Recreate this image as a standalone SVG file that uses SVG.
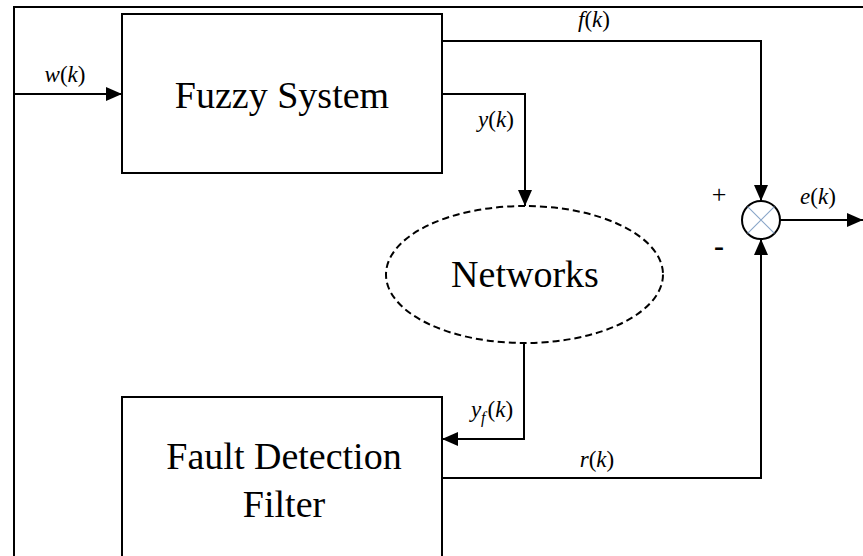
<svg xmlns="http://www.w3.org/2000/svg" width="863" height="556" viewBox="0 0 863 556">
<defs>
<style>
.ln{fill:none;stroke:#000;stroke-width:2}
.box{fill:#fff;stroke:#000;stroke-width:2}
.big{font-size:38px}
.lab{font-size:23px}
.it{font-style:italic}
</style>
<marker id="ah" viewBox="0 0 16 14" refX="16" refY="7" markerWidth="16" markerHeight="14" markerUnits="userSpaceOnUse" orient="auto">
<path d="M0,0 L16,7 L0,14 Z" fill="#000"/>
</marker>
</defs>
<rect width="863" height="556" fill="#fff"/>
<path class="ln" d="M14,560 L14,7 L870,7"/>
<g id="connectors">
<path class="ln" d="M14,94 L122,94" marker-end="url(#ah)"/>
<path class="ln" d="M442,41 L761,41 L761,201" marker-end="url(#ah)"/>
<path class="ln" d="M442,94 L525,94 L525,206" marker-end="url(#ah)"/>
<path class="ln" d="M524,343 L524,439 L442,439" stroke-width="3" marker-end="url(#ah)"/>
<path class="ln" d="M442,478 L761,478 L761,239" marker-end="url(#ah)"/>
<path class="ln" d="M780,220 L863,220" marker-end="url(#ah)"/>
</g>
<g font-family="Liberation Serif, serif" text-anchor="middle" fill="#000">
<g id="fuzzy">
<rect class="box" x="122" y="14" width="320" height="159"/>
<text class="big" x="282" y="108">Fuzzy System</text>
</g>
<g id="networks">
<ellipse cx="524.5" cy="274.5" rx="138.5" ry="68.5" fill="#fff" stroke="#000" stroke-width="2" stroke-dasharray="7,4"/>
<text class="big" x="525" y="287">Networks</text>
</g>
<g id="filter">
<rect class="box" x="122" y="397" width="320" height="170"/>
<text class="big" x="284" y="469">Fault Detection</text>
<text class="big" x="284" y="517">Filter</text>
</g>
<g id="sum">
<circle cx="761" cy="220" r="19" fill="#fff" stroke="#000" stroke-width="2"/>
<path d="M747.6,206.6 L774.4,233.4 M774.4,206.6 L747.6,233.4" stroke="#8aa6c8" stroke-width="1.2"/>
<text x="719" y="203" font-size="26">+</text>
<text x="719" y="256" font-size="30" font-weight="bold">-</text>
</g>
<g id="labels">
<text class="lab" x="65" y="82"><tspan class="it">w</tspan>(<tspan class="it">k</tspan>)</text>
<text class="lab" x="594" y="27"><tspan class="it">f</tspan>(<tspan class="it">k</tspan>)</text>
<text class="lab" x="496" y="127"><tspan class="it">y</tspan>(<tspan class="it">k</tspan>)</text>
<text class="lab" x="818" y="204"><tspan class="it">e</tspan>(<tspan class="it">k</tspan>)</text>
<text class="lab" x="492" y="417"><tspan class="it">y</tspan><tspan class="it" font-size="16" dy="6">f</tspan><tspan dx="2" dy="-6">(</tspan><tspan class="it">k</tspan>)</text>
<text class="lab" x="597" y="467"><tspan class="it">r</tspan>(<tspan class="it">k</tspan>)</text>
</g>
</g>
</svg>
